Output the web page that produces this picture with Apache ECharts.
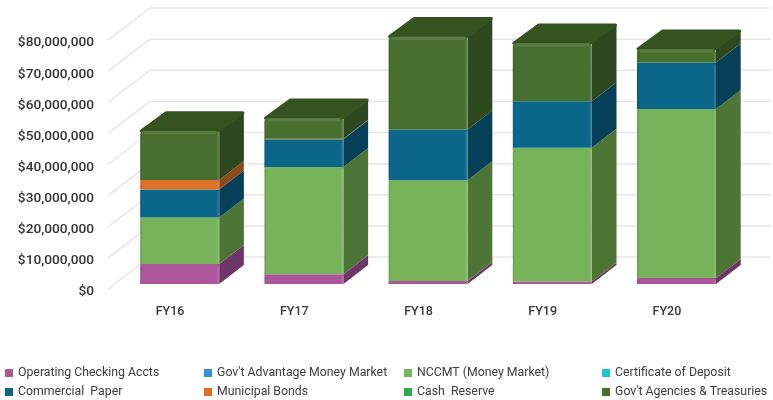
<!DOCTYPE html>
<html>
<head>
<meta charset="utf-8">
<style>
  html, body { margin: 0; padding: 0; background: #fff; }
  #chart { width: 773px; height: 400px; }
</style>
<script src="https://cdn.jsdelivr.net/npm/echarts@6/dist/echarts.min.js"></script>
</head>
<body>
<div id="chart"></div>
<script>
const categories = ['FY16', 'FY17', 'FY18', 'FY19', 'FY20'];
const yTicks = [0, 10000000, 20000000, 30000000, 40000000, 50000000, 60000000, 70000000, 80000000];

const operatingChecking = [6400000, 3100000, 1000000, 800000, 1900000];
const govAdvantage = [0, 0, 0, 0, 0];
const nccmt = [15000000, 34500000, 32300000, 43000000, 54300000];
const certificateOfDeposit = [0, 0, 0, 0, 0];
const commercialPaper = [9000000, 8900000, 16300000, 14900000, 15000000];
const municipalBonds = [3000000, 200000, 0, 0, 0];
const cashReserve = [0, 0, 0, 0, 0];
const govAgencies = [15800000, 6600000, 29900000, 18700000, 4300000];

// stacking order, bottom to top: name, values, front colour, side colour
const stackOrder = [
  ['Operating Checking Accts', operatingChecking, '#ad579b', '#6f3468'],
  ["Gov't Advantage Money Market", govAdvantage, '#3a8fd0', '#235a85'],
  ['NCCMT (Money Market)', nccmt, '#76b35a', '#4d7536'],
  ['Certificate of Deposit', certificateOfDeposit, '#1cc6d0', '#108088'],
  ['Commercial  Paper', commercialPaper, '#0b668a', '#064058'],
  ['Municipal Bonds', municipalBonds, '#dd7226', '#8d4a18'],
  ['Cash  Reserve', cashReserve, '#2fb04a', '#1c7030'],
  ["Gov't Agencies & Treasuries", govAgencies, '#486f30', '#2d481e']
];
const topColor = '#34531f';

const barWidth = 79;
const barShiftX = 9.6;   // bar front against the axis plane
const barShiftY = -5;
const depthX = 24.7;     // bar depth
const depthY = -19;
const wallX = 42;        // back wall against the axis plane
const wallY = -32;

function makeBarRenderer(front, side, isTopSeries) {
  return function (params, api) {
    const base = api.value(1);
    const top = api.value(2);
    if (top <= base) {
      return null;
    }
    const low = api.coord([api.value(0), base]);
    const high = api.coord([api.value(0), top]);
    const x0 = low[0] - barWidth / 2 + barShiftX;
    const x1 = x0 + barWidth;
    const y0 = low[1] + barShiftY;
    const y1 = high[1] + barShiftY;

    const children = [
      {
        type: 'polygon',
        shape: { points: [[x1, y0], [x1 + depthX, y0 + depthY], [x1 + depthX, y1 + depthY], [x1, y1]] },
        style: { fill: side }
      }
    ];
    if (isTopSeries) {
      children.push({
        type: 'polygon',
        shape: { points: [[x0 + 1, y1], [x1 - 1, y1], [x1 + depthX - 1, y1 + depthY + 1], [x0 + depthX + 1, y1 + depthY + 1]] },
        style: { fill: topColor, stroke: topColor, lineWidth: 3, lineJoin: 'round' }
      });
    }
    children.push(
      {
        type: 'rect',
        shape: { x: x0, y: y1, width: barWidth, height: y0 - y1, r: isTopSeries ? [4, 4, 0, 0] : 0 },
        style: { fill: front }
      },
      {
        type: 'line',
        shape: { x1: x1 - 1, y1: y1 + 2, x2: x1 - 1, y2: y0 },
        style: { stroke: 'rgba(255,255,255,0.12)', lineWidth: 2 }
      },
      {
        type: 'line',
        shape: { x1: x0 + 1, y1: y1 + 2, x2: x0 + 1, y2: y0 },
        style: { stroke: 'rgba(0,0,0,0.08)', lineWidth: 1.5 }
      }
    );
    if (isTopSeries) {
      children.push({
        type: 'line',
        shape: { x1: x0 + 3, y1: y1 + 2, x2: x1 - 3, y2: y1 + 2 },
        style: { stroke: 'rgba(255,255,255,0.10)', lineWidth: 3 }
      });
    }
    return { type: 'group', children: children };
  };
}

function renderWall(params, api) {
  const p = api.coord([0, api.value(0)]);
  const x0 = params.coordSys.x;
  const x1 = x0 + params.coordSys.width;
  const lineStyle = { stroke: '#e6e6e6', lineWidth: 1.5 };
  return {
    type: 'group',
    children: [
      { type: 'line', shape: { x1: x0, y1: p[1], x2: x0 + wallX, y2: p[1] + wallY }, style: lineStyle },
      { type: 'line', shape: { x1: x0 + wallX, y1: p[1] + wallY, x2: x1 + wallX, y2: p[1] + wallY }, style: lineStyle }
    ]
  };
}

const series = [{
  name: 'wall',
  type: 'custom',
  silent: true,
  z: 1,
  renderItem: renderWall,
  encode: { y: 0 },
  data: yTicks.map((v) => [v])
}];

const running = categories.map(() => 0);
stackOrder.forEach((entry, index) => {
  const data = entry[1].map((value, i) => {
    const base = running[i];
    running[i] += value;
    return [i, base, running[i]];
  });
  series.push({
    name: entry[0],
    type: 'custom',
    z: 2 + index,
    itemStyle: { color: entry[2] },
    renderItem: makeBarRenderer(entry[2], entry[3], index === stackOrder.length - 1),
    encode: { x: 0, y: [1, 2] },
    data: data
  });
});

function makeLegend(left, names) {
  return {
    left: left,
    top: 366,
    orient: 'vertical',
    itemGap: 5,
    itemWidth: 8,
    itemHeight: 8,
    padding: 0,
    icon: 'rect',
    selectedMode: false,
    data: names,
    textStyle: {
      fontFamily: 'Roboto',
      fontSize: 12.3,
      lineHeight: 14,
      color: '#3c3c3c'
    }
  };
}

const options = {
  animation: false,
  backgroundColor: '#fff',
  // second grid only carries the dollar labels, which sit a little below the wall lines
  grid: [
    { left: 108, width: 621, top: 40, height: 249 },
    { left: 108, width: 621, top: 43, height: 249 }
  ],
  xAxis: [
    {
      type: 'category',
      data: categories,
      axisLine: { show: false },
      axisTick: { show: false },
      axisLabel: {
        margin: 16,
        fontFamily: 'Roboto',
        fontSize: 12.5,
        fontWeight: 500,
        color: '#3a3a3a'
      }
    },
    { type: 'category', gridIndex: 1, data: categories, show: false }
  ],
  yAxis: [
    {
      type: 'value',
      min: 0,
      max: 80000000,
      interval: 10000000,
      axisLine: { show: false },
      axisTick: { show: false },
      splitLine: { show: false },
      axisLabel: { show: false }
    },
    {
      type: 'value',
      gridIndex: 1,
      min: 0,
      max: 80000000,
      interval: 10000000,
      axisLine: { show: false },
      axisTick: { show: false },
      splitLine: { show: false },
      axisLabel: {
        margin: 14,
        fontFamily: 'Roboto',
        fontSize: 13.7,
        fontWeight: 500,
        color: '#333',
        formatter: (v) => '$' + v.toLocaleString('en-US')
      }
    }
  ],
  legend: [
    makeLegend(5, [stackOrder[0][0], stackOrder[4][0]]),
    makeLegend(204, [stackOrder[1][0], stackOrder[5][0]]),
    makeLegend(404, [stackOrder[2][0], stackOrder[6][0]]),
    makeLegend(602, [stackOrder[3][0], stackOrder[7][0]])
  ],
  series: series
};

const chart = echarts.init(document.getElementById('chart'));
chart.setOption(options);
</script>
</body>
</html>
